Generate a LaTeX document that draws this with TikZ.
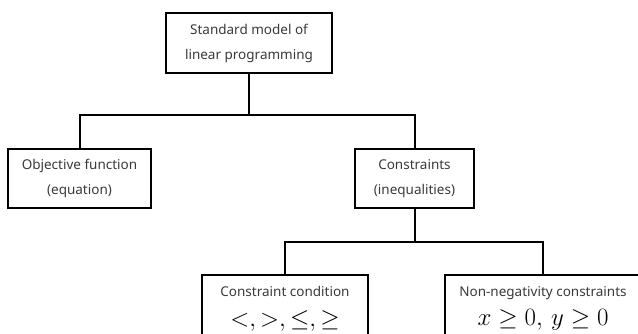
\documentclass[tikz,border=0pt]{standalone}
\usepackage{fontspec}
\setmainfont{Noto Sans}
\definecolor{txtgray}{HTML}{3A3A3A}
\begin{document}
\begin{tikzpicture}[x=1pt,y=-1pt,
  box/.style={draw=black, line width=2pt, inner sep=0pt, align=center, text=txtgray, font=\fontsize{13.5}{25}\selectfont},
  lbl/.style={inner sep=0pt, text=txtgray, font=\fontsize{13.5}{16}\selectfont},
  mathlbl/.style={inner sep=0pt, text=black, font=\fontsize{25}{30}\selectfont},
  link/.style={draw=black, line width=2pt}]
\clip (0,0) rectangle (638,333);
\fill[white] (0,0) rectangle (638,333);
% boxes
\node[box, minimum width=166, minimum height=60] (root) at (249,43) {Standard model of\\linear programming};
\node[box, minimum width=143, minimum height=59] (obj) at (79.5,178.5) {Objective function\\(equation)};
\node[box, minimum width=119, minimum height=59] (con) at (414.5,178.5) {Constraints\\(inequalities)};
\node[box, minimum width=166, minimum height=100, anchor=north] (cc) at (285,274) {};
\node[box, minimum width=196, minimum height=100, anchor=north] (nn) at (543,274) {};
% texts inside the clipped boxes
\node[lbl, anchor=base] (cct) at (285,296) {Constraint condition};
\node[mathlbl, anchor=base] (ccm) at (285,326) {$<,>,\leq,\geq$};
\node[lbl, anchor=base] (nnt) at (543,296) {Non-negativity constraints};
\node[mathlbl, anchor=base] (nnm) at (543,325) {$x\geq 0,\,y\geq 0$};
% connectors
\coordinate (j1) at (249,115);
\coordinate (j2) at (414.5,242);
\draw[link] (root.south) -- (j1);
\draw[link] (j1) -| (obj.north);
\draw[link] (j1) -| (con.north);
\draw[link] (con.south) -- (j2);
\draw[link] (j2) -| (cc.north);
\draw[link] (j2) -| (nn.north);
\end{tikzpicture}
\end{document}
